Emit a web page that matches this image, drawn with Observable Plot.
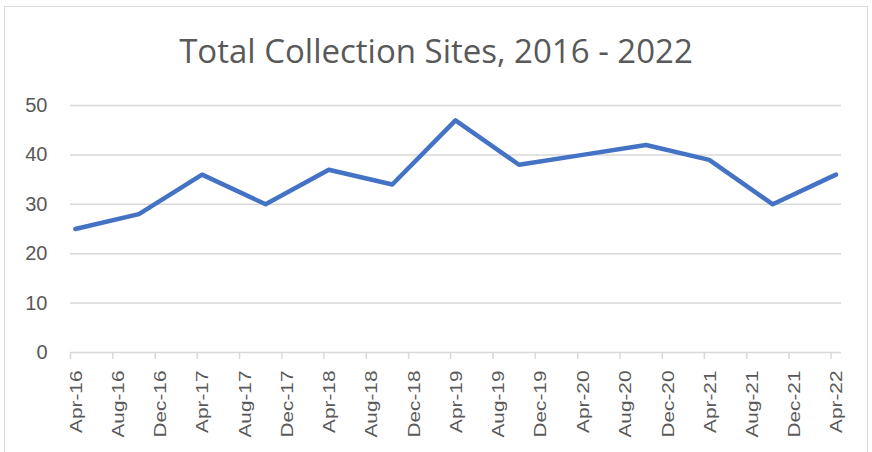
<!DOCTYPE html>
<html>
<head>
<meta charset="utf-8">
<script src="https://cdn.jsdelivr.net/npm/d3@7"></script>
<script src="https://cdn.jsdelivr.net/npm/@observablehq/plot@0.6"></script>
<style>
  html, body { margin: 0; padding: 0; background: #fff; }
  #wrap { position: relative; width: 872px; height: 452px; overflow: hidden; }
  #frame { position: absolute; left: 4px; top: 6px; width: 864px; height: 470px; border: 1.5px solid #d9d9d9; box-sizing: border-box; }
  #title { position: absolute; left: 0; top: 34px; width: 872px; text-align: center;
           font-family: "Open Sans", sans-serif; font-size: 33px; line-height: 33px; color: #595959; white-space: nowrap; }
  #chart { position: absolute; left: 0; top: 90px; }
  #chart svg g[aria-label="y-axis tick label"] { font-family: "Liberation Sans", Arial, sans-serif; }
  #chart svg g[aria-label="x-axis tick label"] { font-family: "Liberation Sans", Arial, sans-serif; }
</style>
</head>
<body>
<div id="wrap">
  <div id="frame"></div>
  <div id="title">Total Collection Sites, 2016 - 2022</div>
  <div id="chart"></div>
</div>
<script>
const dates = ["2016-04-15","2016-10-15","2017-04-15","2017-10-15","2018-04-15","2018-10-15",
               "2019-04-15","2019-10-15","2020-04-15","2020-10-15","2021-04-15","2021-10-15","2022-04-15"];
const sites = [25, 28, 36, 30, 37, 34, 47, 38, 40, 42, 39, 30, 36];

// Axis ticks
const tickDates = ["2016-04-01","2016-08-01","2016-12-01","2017-04-01","2017-08-01","2017-12-01",
                   "2018-04-01","2018-08-01","2018-12-01","2019-04-01","2019-08-01","2019-12-01",
                   "2020-04-01","2020-08-01","2020-12-01","2021-04-01","2021-08-01","2021-12-01","2022-04-01"];
const tickLabels = ["Apr-16","Aug-16","Dec-16","Apr-17","Aug-17","Dec-17","Apr-18","Aug-18","Dec-18",
                    "Apr-19","Aug-19","Dec-19","Apr-20","Aug-20","Dec-20","Apr-21","Aug-21","Dec-21","Apr-22"];
const yTicks = [0, 10, 20, 30, 40, 50];

const data = dates.map((d, i) => ({date: new Date(d), value: sites[i]}));
const ticks = tickDates.map(d => new Date(d));
const labelOf = new Map(ticks.map((t, i) => [+t, tickLabels[i]]));

const svg = Plot.plot({
  width: 872,
  height: 362,
  marginLeft: 70,
  marginRight: 31,
  marginTop: 15,
  marginBottom: 100,
  style: {background: "transparent", color: "#595959"},
  x: {type: "utc", domain: [new Date("2016-04-01"), new Date("2022-05-01")]},
  y: {domain: [0, 50]},
  marks: [
    Plot.gridY(yTicks.filter(d => d > 0), {stroke: "#d9d9d9", strokeOpacity: 1, strokeWidth: 1.5}),
    Plot.ruleY([0], {stroke: "#d9d9d9", strokeWidth: 1.5}),
    Plot.axisY({ticks: yTicks, tickSize: 0, tickPadding: 23, fontSize: 20, fill: "#595959", label: null}),
    // tick marks
    Plot.axisX({ticks: ticks, tickFormat: () => "", tickSize: 7, stroke: "#d9d9d9",
                strokeOpacity: 1, strokeWidth: 1.5, label: null}),
    // rotated tick labels
    Plot.axisX({ticks: ticks, tickFormat: d => labelOf.get(+d), tickSize: 0, tickRotate: -90,
                tickPadding: 18, dx: 6, fontSize: 16, fill: "#595959", label: null}),
    Plot.line(data, {x: "date", y: "value", stroke: "#4472C4", strokeWidth: 4.5,
                     strokeLinejoin: "round", strokeLinecap: "round"})
  ]
});
document.getElementById("chart").appendChild(svg);
// stretch rotated tick labels along their length to mimic the reference's tall lettering
d3.select(svg).selectAll('g[aria-label="x-axis tick label"] text').each(function() {
  const t = this.getAttribute("transform") || "";
  this.setAttribute("transform", t + " scale(1.3,1)");
});
</script>
</body>
</html>
